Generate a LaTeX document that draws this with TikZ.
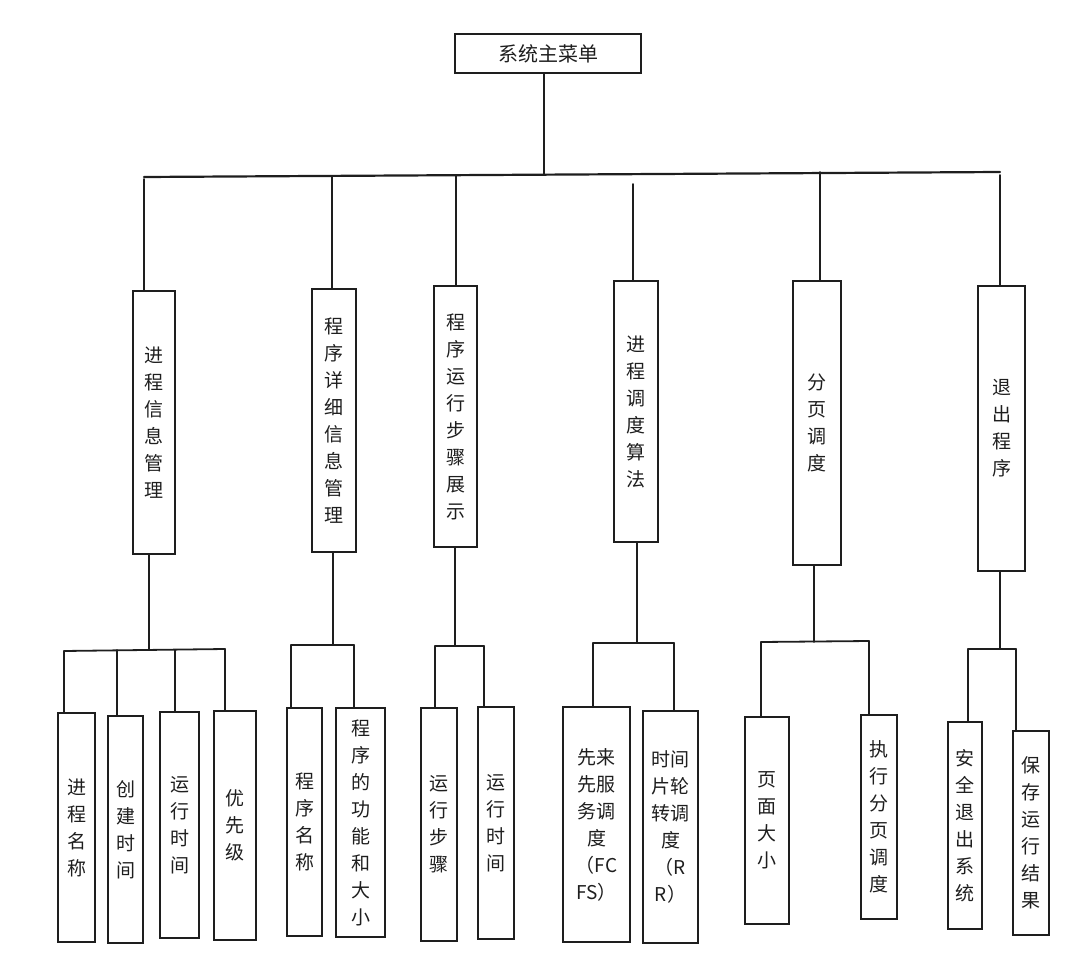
\documentclass[tikz,border=0pt]{standalone}
\usepackage{fontspec}
\setmainfont{Noto Sans CJK SC}
\definecolor{ink}{HTML}{1E1E1E}
\tikzset{
  box/.style={draw=ink, line width=1.8pt, inner sep=0pt, align=center, text=ink,
              font=\fontsize{19}{27}\selectfont},
  ln/.style={draw=ink, line width=1.8pt, line cap=round},
}
\newcommand\mybox[6]{\node[box, minimum width={(#4-#2)*1pt}, minimum height={(#5-#3)*1pt}] (#1) at ({(#2+#4)/2},{(#3+#5)/2}) {#6};}
\begin{document}
\begin{tikzpicture}[x=1pt,y=-1pt]
\useasboundingbox (0,0) rectangle (1069,974);
% top
\node[box, minimum width=186pt, minimum height=39pt, font=\fontsize{20}{24}\selectfont] (top) at (548,53.5) {系统主菜单};
% middle row
\mybox{m1}{133}{291}{175}{554}{进\\程\\信\\息\\管\\理}
\mybox{m2}{312}{289}{356}{552}{程\\序\\详\\细\\信\\息\\管\\理}
\mybox{m3}{434}{286}{477}{547}{程\\序\\运\\行\\步\\骤\\展\\示}
\mybox{m4}{614}{281}{658}{542}{进\\程\\调\\度\\算\\法}
\mybox{m5}{793}{281}{841}{565}{分\\页\\调\\度}
\mybox{m6}{978}{286}{1025}{571}{退\\出\\程\\序}
% bottom row
\mybox{s1}{58}{713}{95}{942}{进\\程\\名\\称}
\mybox{s2}{108}{716}{143}{943}{创\\建\\时\\间}
\mybox{s3}{160}{712}{199}{938}{运\\行\\时\\间}
\mybox{s4}{214}{711}{256}{940}{优\\先\\级}
\mybox{s5}{287}{708}{322}{936}{程\\序\\名\\称}
\mybox{s6}{336}{708}{385}{937}{程\\序\\的\\功\\能\\和\\大\\小}
\mybox{s7}{421}{708}{457}{941}{运\\行\\步\\骤}
\mybox{s8}{478}{707}{514}{939}{运\\行\\时\\间}
\mybox{s9}{563}{707}{630}{942}{先来\\先服\\务调\\度\\（FC\\FS）}
\mybox{s10}{643}{711}{698}{943}{时间\\片轮\\转调\\度\\（R\\R）}
\mybox{s11}{745}{717}{789}{924}{页\\面\\大\\小}
\mybox{s12}{861}{715}{897}{919}{执\\行\\分\\页\\调\\度}
\mybox{s13}{948}{722}{982}{929}{安\\全\\退\\出\\系\\统}
\mybox{s14}{1013}{731}{1049}{935}{保\\存\\运\\行\\结\\果}
% main bus
\coordinate (j0) at (544,174);
\coordinate (busL) at (144,177);
\coordinate (busR) at (1000,172);
\draw[ln] ([xshift=-4pt]top.south) -- (j0);
\draw[ln, line width=2.2pt] (busL) -- (busR);
\coordinate (b1) at (144,179);
\coordinate (b2) at (332,176);
\coordinate (b3) at (456,175);
\coordinate (b4) at (633,184);
\coordinate (b5) at (820,172);
\coordinate (b6) at (1000,175);
\foreach \b/\m in {b1/m1,b2/m2,b3/m3,b4/m4,b5/m5,b6/m6}
  \draw[ln] (\b) -- (\b |- \m.north);
% sub buses
\coordinate (c1) at (149,650);
\coordinate (c2) at (333,645);
\coordinate (c3) at (455,646);
\coordinate (c4) at (637,643);
\coordinate (c5) at (814,642);
\coordinate (c6) at (1000,649);
\foreach \c/\m in {c1/m1,c2/m2,c3/m3,c4/m4,c5/m5,c6/m6}
  \draw[ln] (\c |- \m.south) -- (\c);
% group 1
\coordinate (g1a) at (64,651);
\coordinate (g1b) at (117,650);
\coordinate (g1c) at (175,650);
\coordinate (g1d) at (225,649);
\draw[ln] (g1a) -- (g1d);
% group 2
\coordinate (g2a) at (291,645);
\coordinate (g2b) at (354,645);
\draw[ln] (g2a) -- (g2b);
% group 3
\coordinate (g3a) at (435,646);
\coordinate (g3b) at (484,646);
\draw[ln] (g3a) -- (g3b);
% group 4
\coordinate (g4a) at (593,643);
\coordinate (g4b) at (674,643);
\draw[ln] (g4a) -- (g4b);
% group 5
\coordinate (g5a) at (761,642);
\coordinate (g5b) at (869,641);
\draw[ln] (g5a) -- (g5b);
% group 6
\coordinate (g6a) at (968,649);
\coordinate (g6b) at (1016,649);
\draw[ln] (g6a) -- (g6b);
\foreach \g/\s in {g1a/s1,g1b/s2,g1c/s3,g1d/s4,g2a/s5,g2b/s6,g3a/s7,g3b/s8,g4a/s9,g4b/s10,g5a/s11,g5b/s12,g6a/s13,g6b/s14}
  \draw[ln] (\g) -- (\g |- \s.north);
\end{tikzpicture}
\end{document}
